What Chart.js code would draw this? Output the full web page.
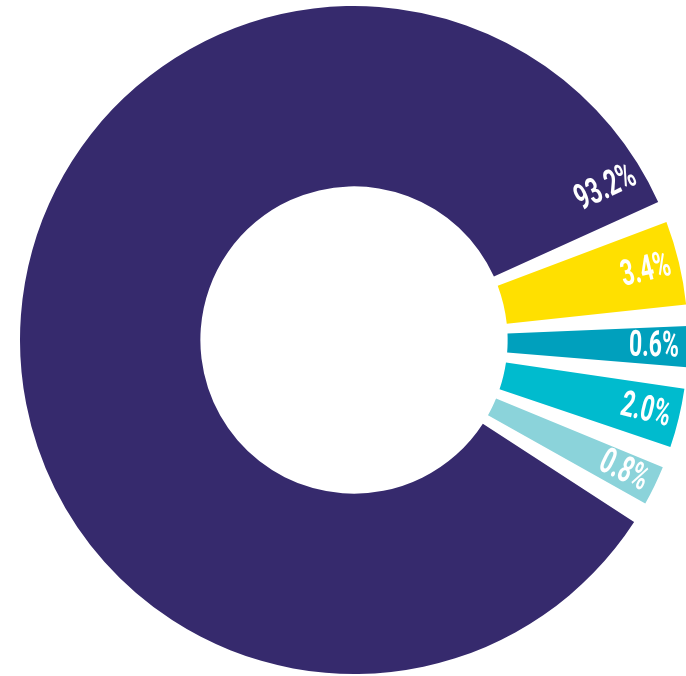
<!DOCTYPE html>
<html>
<head>
<meta charset="utf-8">
<script src="https://cdn.jsdelivr.net/npm/chart.js@4/dist/chart.umd.min.js"></script>
<style>
    html, body { margin: 0; padding: 0; background: #fff; overflow: hidden; }
    #wrap { width: 700px; height: 676px; }
</style>
</head>
<body>
<div id="wrap"><canvas id="donaGrafico" width="700" height="676"></canvas></div>
<script>
// valores mostrados en el grafico (%)
const porcentajes = [93.2, 3.4, 0.6, 2.0, 0.8]
const etiquetas = ['93.2%', '3.4%', '0.6%', '2.0%', '0.8%']
// el grafico original no esta a escala: tamaño de cada porcion tal como se ve (grados)
const tamanoDibujado = [302.6, 14.6, 7.1, 10.3, 6.9]
const colores = ['#362a6d', '#ffe000', '#00a0bd', '#00bbce', '#8bd3da']
const HUECO = 3.7 // separacion entre porciones (grados)

document.addEventListener('DOMContentLoaded', function () {

    // intercalar huecos transparentes entre porciones
    let datos = []
    let fondos = []
    tamanoDibujado.forEach((v, i) => {
        datos.push(v, HUECO)
        fondos.push(colores[i], 'rgba(0,0,0,0)')
    })

    const etiquetasPlugin = {
        id: 'etiquetasPorcion',
        afterDatasetsDraw(chart) {
            const ctx = chart.ctx
            const meta = chart.getDatasetMeta(0)
            meta.data.forEach((arc, i) => {
                if (i % 2 === 1) return // hueco
                const k = i / 2
                const p = arc.getProps(['x', 'y', 'startAngle', 'endAngle', 'outerRadius'], true)
                let ang = (p.startAngle + p.endAngle) / 2
                let rot = ang
                let r = p.outerRadius - 34
                // la porcion grande lleva la etiqueta al final del arco
                if (p.endAngle - p.startAngle > Math.PI) {
                    ang = p.endAngle - 0.118
                    rot = p.endAngle - 0.02
                    r = p.outerRadius - 40
                }
                ctx.save()
                ctx.translate(p.x + Math.cos(ang) * r, p.y + Math.sin(ang) * r)
                ctx.rotate(rot)
                ctx.scale(0.64, 1)
                ctx.font = 'bold 36px Roboto, "DejaVu Sans", sans-serif'
                ctx.fillStyle = '#ffffff'
                ctx.textAlign = 'center'
                ctx.textBaseline = 'middle'
                ctx.fillText(etiquetas[k], 0, 1)
                ctx.restore()
            })
        }
    }

    const ctx = document.getElementById('donaGrafico').getContext('2d')
    const grafico = new Chart(ctx, {
        type: 'doughnut',
        data: {
            labels: datos.map((d, i) => i % 2 === 0 ? etiquetas[i / 2] : ''),
            datasets: [{
                data: datos,
                backgroundColor: fondos,
                borderWidth: 0,
                hoverOffset: 0
            }]
        },
        options: {
            responsive: false,
            animation: false,
            cutout: '46%',
            rotation: 123,
            layout: {
                padding: { left: 20, right: 12, top: 6, bottom: 2 }
            },
            plugins: {
                legend: { display: false },
                tooltip: { enabled: false }
            }
        },
        plugins: [etiquetasPlugin]
    })
})
</script>
</body>
</html>
